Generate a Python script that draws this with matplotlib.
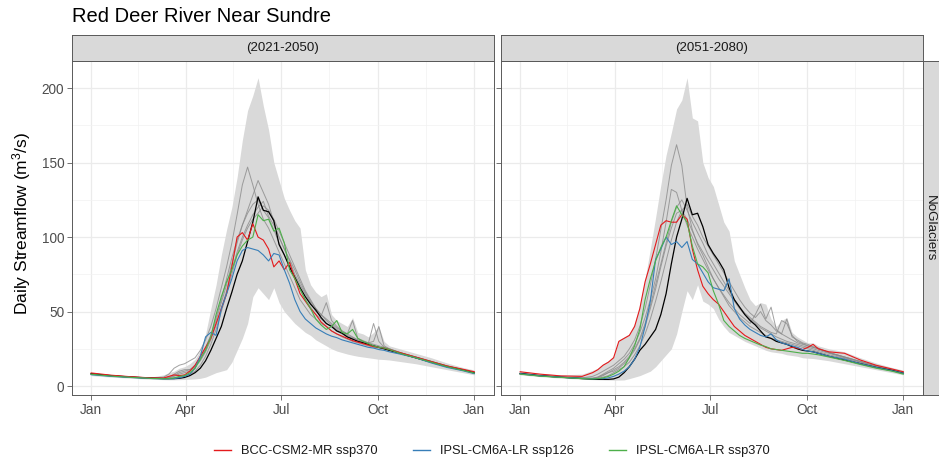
import matplotlib
matplotlib.use("Agg")
import matplotlib.pyplot as plt
from matplotlib.lines import Line2D

plt.rcParams['font.family'] = ['Liberation Sans', 'DejaVu Sans']
plt.rcParams['mathtext.fontset'] = 'custom'
plt.rcParams['mathtext.rm'] = 'Liberation Sans'
plt.rcParams['mathtext.it'] = 'Liberation Sans:italic'

TITLE = "Red Deer River Near Sundre"
PERIODS = ["(2021-2050)", "(2051-2080)"]
ROW_LABEL = "NoGlaciers"
MONTH_TICKS = [1, 91, 182, 274, 366]
MONTH_LABELS = ["Jan", "Apr", "Jul", "Oct", "Jan"]
MINOR_X = [46, 136.5, 228, 320]
Y_TICKS = [0, 50, 100, 150, 200]
LEGEND_LABELS = ["BCC-CSM2-MR ssp370", "IPSL-CM6A-LR ssp126", "IPSL-CM6A-LR ssp370"]

DAYS = [1, 20, 40, 60, 70, 75, 80, 85, 90, 95, 100, 105, 110, 115, 120, 125, 130, 135,
        140, 145, 150, 155, 160, 165, 170, 175, 180, 185, 190, 195, 200, 205, 210, 215,
        220, 225, 230, 235, 240, 245, 250, 255, 260, 265, 270, 275, 280, 285, 295, 310,
        325, 340, 355, 366]

# ---------------- Panel 1 (2021-2050) ----------------
p1_upper = [9.0, 7.5, 6.6, 6.3, 7.5, 9, 10, 12, 13, 15, 18, 24, 35, 52, 68, 88, 105, 120,
            140, 165, 185, 195, 207, 188, 172, 150, 138, 126, 118, 111, 106, 78, 68, 63,
            60, 62, 48, 44, 42, 40, 46, 36, 35, 33, 36, 40, 30, 27, 25, 22, 19, 15.5, 12.5, 10.8]
p1_lower = [7.0, 6.0, 5.2, 4.5, 4.3, 4.2, 4.2, 4.3, 4.4, 4.6, 4.8, 5.2, 6, 7.5, 9, 10, 11, 16,
            24, 32, 42, 60, 66, 62, 58, 66, 56, 50, 46, 42, 39, 36, 34, 31, 29, 27, 25, 23.5,
            22.5, 21.5, 20.7, 20, 19.5, 19, 18.5, 18, 17.8, 17.5, 16.5, 15, 13, 11, 9, 7.5]
p1_black = [8.3, 7.0, 6.0, 5.3, 5.0, 5.0, 5.0, 5.2, 5.8, 7, 9, 12, 17, 24, 32, 40, 52, 63,
            75, 84, 97, 110, 127, 118, 117, 111, 95, 88, 80, 73, 66, 60, 55, 51, 46, 42, 40,
            37, 35.5, 33, 31.5, 30, 29, 28, 27, 26, 25, 24, 22, 19, 16, 13, 10.8, 8.8]
p1_red = [8.8, 7.3, 6.2, 5.4, 5.4, 6.5, 7.5, 7.0, 7.5, 10, 14, 20, 26, 32, 42, 52, 62, 80,
          100, 103, 98, 109, 100, 98, 92, 80, 84, 78, 83, 72, 62, 57, 52, 48, 43, 40, 37, 35,
          33.5, 32, 30.5, 29.5, 28.5, 27.5, 26.5, 26, 25.5, 24.5, 22.5, 19.5, 16.5, 13.5, 11.3, 9.6]
p1_blue = [7.6, 6.5, 5.7, 5.0, 4.8, 4.8, 5, 5.5, 6.5, 8, 12, 20, 33, 36, 34, 52, 62, 72,
           84, 91, 93, 92, 91, 88, 84, 89, 88, 78, 69, 58, 50, 45, 42, 39, 37, 35, 33.5, 32.5,
           31, 30, 29, 28, 27, 26, 25.5, 24.5, 24, 23, 21.5, 19, 15.5, 12.5, 10.3, 8.3]
p1_green = [7.9, 6.7, 5.8, 5.1, 4.9, 5, 5.5, 6.5, 7, 9, 12, 18, 24, 33, 48, 60, 70, 78,
            88, 94, 98, 100, 115, 111, 112, 104, 106, 96, 78, 72, 65, 58, 52, 45, 41, 38, 40,
            44, 36, 35, 38, 32, 30, 28.5, 27, 26, 25.5, 24.5, 22, 19, 16, 13, 10.6, 8.7]
p1_grey1 = [8.2, 6.9, 6.0, 5.5, 6, 8, 12, 14, 15, 17, 19, 24, 31, 40, 52, 66, 80, 96,
            115, 135, 147, 135, 122, 112, 106, 98, 90, 82, 74, 66, 58, 53, 48, 45, 42, 40, 37,
            35, 33, 31.5, 30, 29, 28, 27, 26, 25.5, 25, 24, 22, 19, 16, 13, 10.8, 8.9]
p1_grey2 = [8.0, 6.8, 5.9, 5.3, 5.2, 6, 8, 10, 11, 11, 14, 19, 26, 34, 44, 56, 68, 82,
            96, 108, 118, 128, 138, 130, 122, 110, 100, 92, 84, 75, 68, 62, 56, 50, 47, 56, 44,
            40, 37, 35, 44, 32, 30.5, 29, 30, 40, 27, 25, 22.5, 19.5, 16.5, 13.5, 11, 9.0]
p1_grey3 = [8.1, 6.8, 5.9, 5.2, 5.1, 5.5, 6.5, 8, 9, 10, 13, 18, 25, 34, 46, 58, 72, 86,
            98, 108, 116, 122, 125, 118, 113, 105, 96, 88, 80, 72, 65, 58, 53, 48, 45, 42, 40,
            37, 35, 33, 32, 30, 29, 28, 27, 26, 25.5, 24.5, 22, 19, 16, 13, 10.7, 8.8]
p1_grey4 = [8.0, 6.7, 5.8, 5.1, 5.0, 5, 5.5, 6, 7, 8, 10, 14, 20, 28, 38, 50, 62, 75,
            88, 98, 106, 112, 116, 121, 118, 112, 104, 96, 88, 80, 72, 64, 58, 52, 48, 45, 42,
            39, 37, 35, 33, 31, 30, 29, 28, 27, 26, 25, 22.5, 19.5, 16.5, 13.5, 11, 9.0]
p1_grey5 = [8.2, 6.9, 6.0, 5.3, 5.2, 5.5, 7, 9, 10, 11, 13, 17, 23, 31, 41, 52, 64, 78,
            90, 100, 108, 115, 120, 124, 114, 108, 100, 92, 85, 78, 70, 63, 57, 52, 48, 44, 41,
            38, 36, 34, 32.5, 31, 29.5, 28.5, 42, 30, 26, 25, 22.5, 19.5, 16.5, 13.5, 11, 9.0]

# ---------------- Panel 2 (2051-2080) ----------------
p2_upper = [10, 8.5, 7.5, 8, 10.5, 12, 15, 17, 20, 31, 33, 35, 42, 55, 72, 92, 113, 135,
            155, 170, 186, 192, 207, 180, 178, 150, 140, 134, 122, 110, 104, 84, 75, 66, 58,
            54, 56, 55, 45, 40, 44, 46, 36, 33, 31, 29, 29, 27, 25, 23, 19, 15.5, 12.5, 10.7]
p2_lower = [7.5, 6.3, 5.3, 4.6, 4.3, 4.2, 4.1, 4.0, 4.0, 4.0, 4.1, 5, 6, 7, 8.5, 10, 13, 17,
            21, 25, 35, 50, 64, 58, 68, 57, 55, 52, 45, 40, 36, 34, 32, 30, 28.5, 27, 25.5,
            24, 23, 22.5, 22, 21, 20.5, 20, 19, 18.7, 18.5, 18, 17, 15, 13, 11, 9, 7.5]
p2_black = [8.5, 7.0, 6.0, 5.0, 4.6, 4.5, 4.5, 4.5, 4.8, 6, 9, 13, 18, 24, 28, 33, 38, 48,
            62, 82, 100, 112, 126, 115, 116, 107, 95, 89, 84, 78, 66, 58, 53, 48, 44, 41, 37,
            33, 32, 30, 29, 28, 26.5, 25, 24, 23.5, 23, 22, 20, 17.5, 15, 12.5, 10.5, 8.5]
p2_red = [9.6, 8.0, 6.8, 6.5, 9, 11, 14, 16, 19, 30, 32, 34, 40, 52, 70, 82, 95, 108,
          111, 110, 110, 115, 112, 92, 78, 67, 62, 58, 55, 50, 45, 40, 37, 34, 32, 30, 28, 26,
          25, 24.5, 24, 25, 26, 25.5, 24.5, 26, 28, 25, 23, 22, 17.5, 14, 11.5, 9.6]
p2_blue = [8.3, 6.9, 5.9, 5.1, 4.9, 5, 5, 5.5, 6.5, 8, 10, 13, 18, 26, 40, 57, 85, 92,
           100, 95, 97, 93, 97, 85, 82, 76, 70, 66, 65, 64, 72, 52, 45, 41, 38, 36, 34, 33,
           35, 31, 29, 28, 27, 26, 24.5, 23.5, 23, 22, 20, 18, 15, 12.5, 10.3, 8.5]
p2_green = [8.0, 6.7, 5.8, 5.0, 4.8, 5, 5.5, 6.5, 8, 10, 13, 19, 27, 38, 58, 72, 84, 93,
            100, 111, 121, 115, 110, 94, 82, 80, 76, 64, 55, 44, 40, 37, 34, 32, 30.5, 29,
            27.5, 26.5, 25, 24.5, 24, 23.5, 23, 22.5, 22, 22, 21.5, 21, 19.5, 17.2, 14.5, 12, 10, 8.0]
p2_grey1 = [8.2, 6.9, 6.0, 5.5, 6.5, 8, 10, 12, 14, 17, 20, 25, 31, 40, 52, 68, 85, 105,
            125, 148, 162, 148, 120, 105, 95, 88, 80, 72, 66, 60, 54, 50, 46, 43, 40, 38, 36,
            34, 32, 31, 30, 29, 28, 27, 26, 25, 24, 23, 21, 18.5, 15.5, 13, 10.8, 8.8]
p2_grey2 = [8.1, 6.8, 5.9, 5.3, 5.2, 6, 8, 10, 12, 15, 18, 22, 28, 36, 46, 58, 72, 90,
            110, 132, 130, 118, 108, 100, 92, 85, 78, 72, 66, 61, 56, 52, 48, 45, 42, 48, 55,
            45, 53, 38, 35, 33, 31, 29, 28, 27, 26, 25, 22.5, 19.5, 16.5, 13.5, 11, 9.0]
p2_grey3 = [8.1, 6.8, 5.9, 5.2, 5.1, 5.5, 7, 9, 11, 13, 16, 20, 25, 32, 42, 54, 68, 82,
            96, 110, 120, 125, 118, 110, 103, 96, 88, 82, 76, 70, 64, 58, 53, 49, 46, 43, 40,
            38, 36, 35, 44, 42, 34, 30, 28.5, 27, 26, 25, 22.5, 19.5, 16.5, 13.5, 11, 9.0]
p2_grey4 = [8.0, 6.7, 5.8, 5.1, 5.0, 5, 6, 7, 9, 11, 13, 16, 21, 27, 35, 45, 57, 70,
            84, 98, 110, 118, 122, 114, 108, 100, 94, 88, 82, 76, 70, 64, 58, 53, 49, 46, 50,
            44, 41, 37, 35, 45, 33, 31, 29, 28, 26.5, 25.5, 22.5, 19.5, 16.5, 13.5, 11, 9.0]
p2_grey5 = [8.2, 6.9, 6.0, 5.3, 5.3, 6, 7.5, 9, 10, 12, 15, 19, 24, 31, 40, 52, 65, 80,
            94, 106, 116, 118, 112, 104, 96, 90, 84, 78, 72, 67, 62, 57, 52, 48, 45, 42, 39,
            37, 35, 33, 31.5, 30, 29, 28, 27, 26, 25, 24, 22, 19, 16, 13, 10.7, 8.8]

PANELS = [
    dict(upper=p1_upper, lower=p1_lower, black=p1_black, red=p1_red, blue=p1_blue,
         green=p1_green, greys=[p1_grey1, p1_grey2, p1_grey3, p1_grey4, p1_grey5]),
    dict(upper=p2_upper, lower=p2_lower, black=p2_black, red=p2_red, blue=p2_blue,
         green=p2_green, greys=[p2_grey1, p2_grey2, p2_grey3, p2_grey4, p2_grey5]),
]

C_RED, C_BLUE, C_GREEN = "#E41A1C", "#377EB8", "#4DAF4A"
W, H = 939, 463
fig = plt.figure(figsize=(W / 100, H / 100), dpi=100)

def fx(px):
    return px / W

def fy(py):
    return 1 - py / H

panel_left = [72, 501]
panel_w = 421.5
top, bottom = 61, 395
BORDER = "#595959"

for i, (pl, pdata) in enumerate(zip(panel_left, PANELS)):
    ax = fig.add_axes([fx(pl), fy(bottom), panel_w / W, (bottom - top) / H])
    ax.set_facecolor("white")
    ax.fill_between(DAYS, pdata["lower"], pdata["upper"], color="#D9D9D9", lw=0, zorder=2)
    for g in pdata["greys"]:
        ax.plot(DAYS, g, color="#8A8A8A", lw=0.7, alpha=0.8, zorder=3)
    ax.plot(DAYS, pdata["black"], color="black", lw=0.9, zorder=4)
    ax.plot(DAYS, pdata["red"], color=C_RED, lw=0.8, zorder=5)
    ax.plot(DAYS, pdata["blue"], color=C_BLUE, lw=0.8, zorder=5)
    ax.plot(DAYS, pdata["green"], color=C_GREEN, lw=0.8, zorder=5)
    ax.set_xlim(1 - 18.25, 366 + 18.25)
    ax.set_ylim(-6.0, 218.2)
    ax.set_xticks(MONTH_TICKS)
    ax.set_xticklabels(MONTH_LABELS)
    ax.set_xticks(MINOR_X, minor=True)
    ax.set_yticks(Y_TICKS)
    ax.set_yticks([25, 75, 125, 175], minor=True)
    ax.grid(which="major", color="#EBEBEB", lw=0.9, zorder=0)
    ax.grid(which="minor", color="#F2F2F2", lw=0.5, zorder=0)
    ax.set_axisbelow(True)
    ax.tick_params(which="major", length=3.5, width=0.6, color=BORDER, labelsize=9.8,
                   labelcolor="#4D4D4D", pad=2)
    ax.tick_params(which="minor", length=0)
    if i == 1:
        ax.set_yticklabels([])
    for s in ax.spines.values():
        s.set_color(BORDER)
        s.set_linewidth(0.7)
        s.set_zorder(10)
    # strip on top
    sax = fig.add_axes([fx(pl), fy(top), panel_w / W, 26 / H])
    sax.set_facecolor("#D9D9D9")
    sax.set_xticks([])
    sax.set_yticks([])
    for s in sax.spines.values():
        s.set_color(BORDER)
        s.set_linewidth(0.7)
    sax.text(0.5, 0.5, PERIODS[i], ha="center", va="center", fontsize=9.6,
             color="#1A1A1A", transform=sax.transAxes)

# right strip
rax = fig.add_axes([fx(923), fy(bottom), 20 / W, (bottom - top) / H])
rax.set_facecolor("#D9D9D9")
rax.set_xticks([])
rax.set_yticks([])
for s in rax.spines.values():
    s.set_color(BORDER)
    s.set_linewidth(0.7)
rax.text(0.35, 0.5, ROW_LABEL, ha="center", va="center", rotation=-90, fontsize=9.6,
         color="#1A1A1A", transform=rax.transAxes)

fig.text(fx(72), fy(16), TITLE, fontsize=14.5, ha="left", va="center", color="black")
fig.text(fx(22), fy(223), r"Daily Streamflow (m$^{3}$/s)", rotation=90, fontsize=12.5,
         ha="center", va="center", color="black")

handles = [Line2D([], [], color=c, lw=1.0) for c in (C_RED, C_BLUE, C_GREEN)]
fig.legend(handles, LEGEND_LABELS, loc="center", bbox_to_anchor=(fx(492), fy(451)),
           ncol=3, frameon=False, fontsize=9.3, handlelength=1.3, handletextpad=0.8,
           columnspacing=2.7, labelcolor="#1A1A1A")

fig.savefig("out.png", dpi=100)
